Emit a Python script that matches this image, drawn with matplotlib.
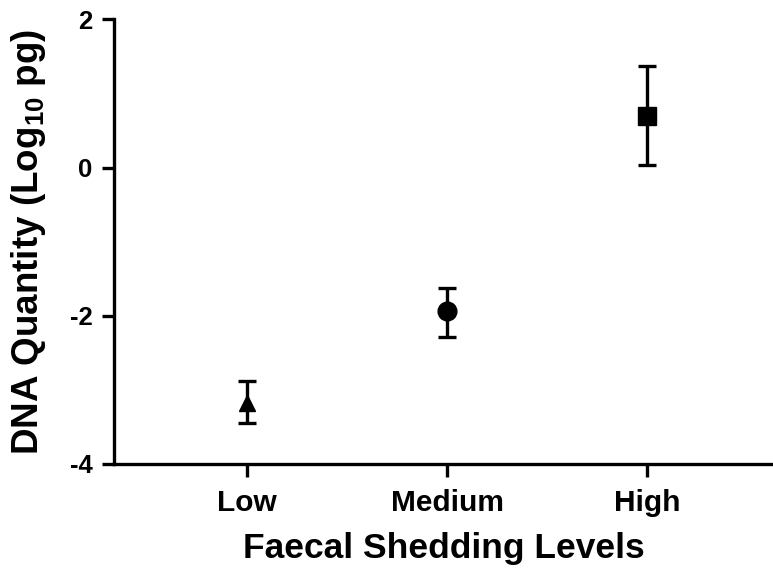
import matplotlib
matplotlib.use("Agg")
import matplotlib.pyplot as plt

categories = ["Low", "Medium", "High"]
means = [-3.18, -1.94, 0.70]
upper = [-2.88, -1.62, 1.375]
lower = [-3.44, -2.28, 0.04]
markers = ["^", "o", "s"]
yticks = [-4, -2, 0, 2]

plt.rcParams['font.family'] = ['Liberation Sans', 'DejaVu Sans']
plt.rcParams['font.weight'] = 'bold'
plt.rcParams['mathtext.fontset'] = 'custom'
plt.rcParams['mathtext.rm'] = 'Liberation Sans:bold'
plt.rcParams['mathtext.bf'] = 'Liberation Sans:bold'
plt.rcParams['mathtext.it'] = 'Liberation Sans:bold'

fig = plt.figure(figsize=(7.73, 5.71), dpi=100)
ax = fig.add_axes([0.1475, 0.1874, 0.8525, 0.7786])

sizes = {"^": 11.5, "o": 13.5, "s": 13}
for i, (m, u, l, mk) in enumerate(zip(means, upper, lower, markers)):
    ax.errorbar([i], [m], yerr=[[m - l], [u - m]], fmt=mk, color='black',
                ecolor='black', elinewidth=2.4, capsize=6.5, capthick=2.4,
                markersize=sizes[mk])

ax.set_xlim(-0.665, 2.63)
ax.set_ylim(-4, 2)
ax.set_xticks(range(len(categories)))
ax.set_xticklabels(categories, fontsize=21.5, fontweight='bold')
ax.set_yticks(yticks)
ax.set_yticklabels([str(t) for t in yticks], fontsize=18.5, fontweight='bold')

for s in ['top', 'right']:
    ax.spines[s].set_visible(False)
for s in ['left', 'bottom']:
    ax.spines[s].set_linewidth(2.4)
ax.tick_params(axis='both', width=2.4, length=9)
ax.tick_params(axis='y', pad=6.5)
ax.tick_params(axis='x', pad=9)

ax.set_ylabel("DNA Quantity (Log$_{10}$ pg)", fontsize=26.5, fontweight='bold', labelpad=16)
ax.set_xlabel("Faecal Shedding Levels", fontsize=25.5, fontweight='bold', labelpad=11)

fig.savefig("out.png", dpi=100)
